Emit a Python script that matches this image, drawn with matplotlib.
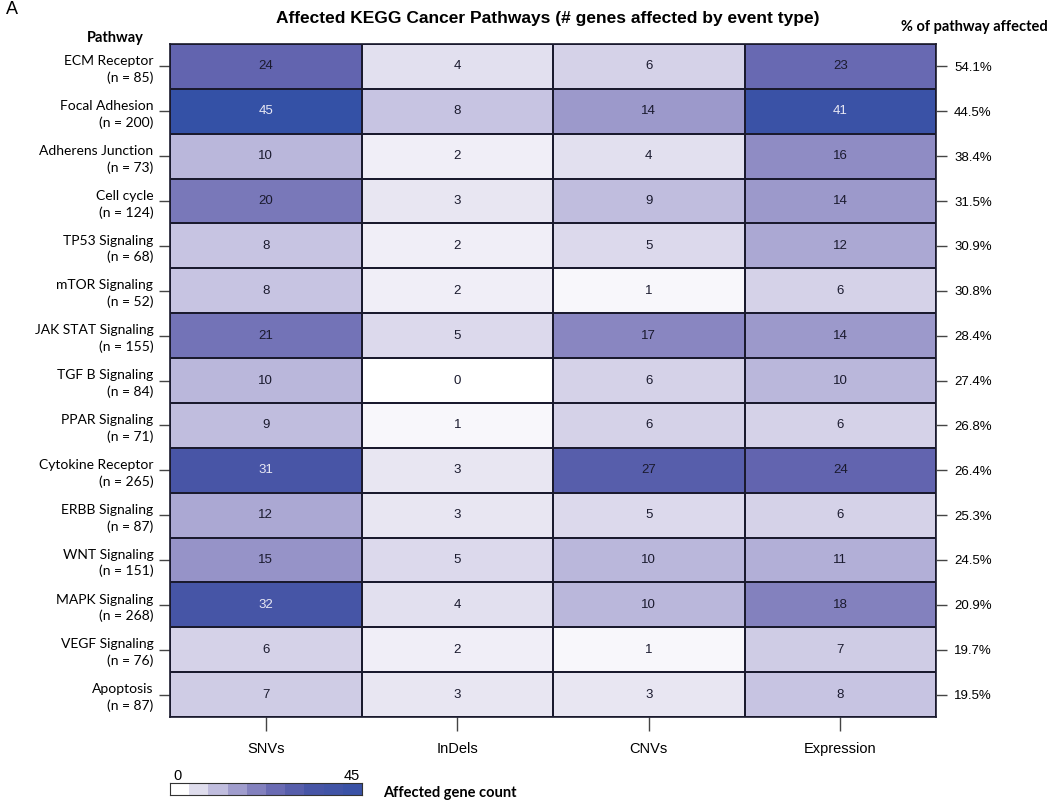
import matplotlib
matplotlib.use("Agg")
import matplotlib.pyplot as plt
import numpy as np
from matplotlib.colors import LinearSegmentedColormap, Normalize

pathways = ["ECM Receptor", "Focal Adhesion", "Adherens Junction", "Cell cycle",
            "TP53 Signaling", "mTOR Signaling", "JAK STAT Signaling", "TGF B Signaling",
            "PPAR Signaling", "Cytokine Receptor", "ERBB Signaling", "WNT Signaling",
            "MAPK Signaling", "VEGF Signaling", "Apoptosis"]
pathway_n = [85, 200, 73, 124, 68, 52, 155, 84, 71, 265, 87, 151, 268, 76, 87]
event_types = ["SNVs", "InDels", "CNVs", "Expression"]
snvs = [24, 45, 10, 20, 8, 8, 21, 10, 9, 31, 12, 15, 32, 6, 7]
indels = [4, 8, 2, 3, 2, 2, 5, 0, 1, 3, 3, 5, 4, 2, 3]
cnvs = [6, 14, 4, 9, 5, 1, 17, 6, 6, 27, 5, 10, 10, 1, 3]
expression = [23, 41, 16, 14, 12, 6, 14, 10, 6, 24, 6, 11, 18, 7, 8]
pct_affected = ["54.1%", "44.5%", "38.4%", "31.5%", "30.9%", "30.8%", "28.4%", "27.4%",
                "26.8%", "26.4%", "25.3%", "24.5%", "20.9%", "19.7%", "19.5%"]
vmin, vmax = 0, 45

data = np.array([snvs, indels, cnvs, expression]).T

anchors = [(0, "#FFFFFF"), (1, "#F7F6FB"), (3, "#E8E6F2"), (6, "#D5D2E8"),
           (10, "#B9B6DB"), (14, "#9C99CB"), (17, "#8986C1"), (24, "#6264AF"),
           (31, "#4855A6"), (45, "#3451A6")]
cmap = LinearSegmentedColormap.from_list(
    "kegg", [(v / vmax, c) for v, c in anchors])
norm = Normalize(vmin, vmax)

fig = plt.figure(figsize=(10.5, 8), dpi=100)
ax = fig.add_axes([170 / 1050, 1 - 717 / 800, (936 - 170) / 1050, (717 - 44) / 800])
nrow, ncol = data.shape
ax.pcolormesh(np.arange(ncol + 1), np.arange(nrow + 1), data, cmap=cmap, norm=norm,
              edgecolor="#1a1a2e", linewidth=1.2)
ax.set_xlim(0, ncol)
ax.set_ylim(nrow, 0)
for i in range(nrow):
    for j in range(ncol):
        v = data[i, j]
        ax.text(j + 0.5, i + 0.5, str(v), ha="center", va="center",
                fontsize=9.5, family="Liberation Sans",
                color="#e8e8f4" if v >= 30 else "#1a1a2e")
for s in ax.spines.values():
    s.set_color("#1a1a2e")
    s.set_linewidth(1.2)

ax.set_xticks(np.arange(ncol) + 0.5)
ax.set_xticklabels(event_types, fontsize=10.5, family="Liberation Sans")
ax.tick_params(axis="x", length=10, width=1, color="#444444", pad=8)
ax.set_yticks(np.arange(nrow) + 0.5)
ax.set_yticklabels([f"{p}\n(n = {n})" for p, n in zip(pathways, pathway_n)],
                   fontsize=10, family="Lato", linespacing=1.4)
ax.tick_params(axis="y", length=8, width=1, color="#444444", pad=4)

ax2 = ax.twinx()
ax2.set_ylim(nrow, 0)
ax2.set_yticks(np.arange(nrow) + 0.5)
ax2.set_yticklabels(pct_affected, fontsize=9.5, family="Liberation Sans")
ax2.tick_params(axis="y", length=8, width=1, color="#444444", pad=5)
for s in ax2.spines.values():
    s.set_visible(False)

fig.text(548 / 1050, 1 - 18 / 800,
         "Affected KEGG Cancer Pathways (# genes affected by event type)",
         ha="center", va="center", fontsize=12.5, fontweight="bold",
         family="Liberation Sans")
fig.text(6 / 1050, 1 - 10 / 800, "A", ha="left", va="center", fontsize=13,
         family="Liberation Sans")
fig.text(115 / 1050, 1 - 38 / 800, "Pathway", ha="center", va="center",
         fontsize=10.5, fontweight="bold", family="Lato")
fig.text(1048 / 1050, 1 - 27 / 800, "% of pathway affected", ha="right", va="center",
         fontsize=10.5, fontweight="bold", family="Lato")

# colorbar
cax = fig.add_axes([170 / 1050, 1 - 795 / 800, (362 - 170) / 1050, 12 / 800])
bounds = np.linspace(vmin, vmax, 11)
cax.pcolormesh(bounds, [0, 1], bounds[:-1][None, :], cmap=cmap, norm=norm)
cax.set_xlim(vmin, vmax)
cax.set_xticks([])
cax.set_yticks([])
for s in cax.spines.values():
    s.set_color("#333333")
    s.set_linewidth(0.8)
fig.text(177 / 1050, 1 - 776 / 800, "0", ha="center", va="center", fontsize=10.5,
         family="Liberation Sans")
fig.text(352 / 1050, 1 - 776 / 800, "45", ha="center", va="center", fontsize=10.5,
         family="Liberation Sans")
fig.text(383 / 1050, 1 - 793 / 800, "Affected gene count", ha="left", va="center",
         fontsize=10.5, fontweight="bold", family="Lato")

fig.savefig("out.png", dpi=100)
